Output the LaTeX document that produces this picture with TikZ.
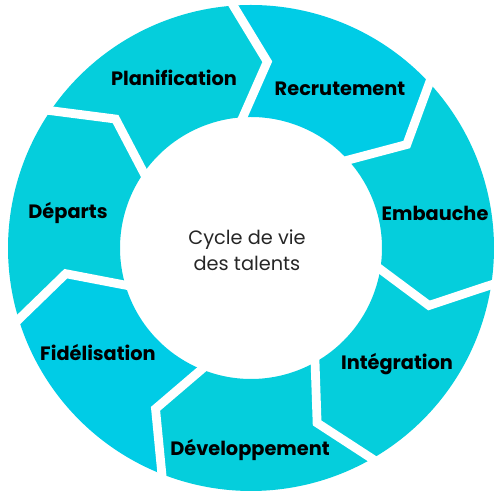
\documentclass[tikz,border=0pt]{standalone}
\usepackage{fontspec}
\setmainfont{Poppins}
\definecolor{cycA}{RGB}{5,206,220}
\definecolor{cycB}{RGB}{0,204,230}

\begin{document}
\begin{tikzpicture} [align=center,
  lab/.style={font=\bfseries\fontsize{11}{13}\selectfont}]
\useasboundingbox (-5.02,-5.04) rectangle (4.98,4.96);

% ring segments, each from its trailing notch to its leading point
\foreach \a/\c in {146.4/cycA, 95/cycB, 43.6/cycA, -7.9/cycA, -59.3/cycA, -110.7/cycB, -162.1/cycA}
  \fill[\c] (\a:4.86) arc[start angle=\a, end angle=\a-51.43, radius=4.86]
    -- (\a-61.43:3.74) -- (\a-51.43:2.62)
    arc[start angle=\a-51.43, end angle=\a, radius=2.62] -- (\a-10:3.74) -- cycle;
\foreach \a in {146.4, 95, 43.6, -7.9, -59.3, -110.7, -162.1}
  \draw[white, line width=5pt] (\a:5) -- (\a-10:3.74) -- (\a:2.5);

\path (-1.54, 3.40) node[lab] (plan) {Planification}
      (1.78, 3.18) node[lab] (recr) {Recrutement}
      (3.68, 0.70) node[lab] (emb) {Embauche}
      (2.92, -2.32) node[lab] (integ) {Intégration}
      (-0.02, -4.04) node[lab] (dev) {Développement}
      (-3.06, -2.10) node[lab] (fid) {Fidélisation}
      (-3.66, 0.70) node[lab] (dep) {Départs}
      (-0.08, -0.04) node[font=\fontsize{11}{15}\selectfont, text=black!85] (cycle) {Cycle de vie\\des talents};

\end{tikzpicture}
\end{document}
